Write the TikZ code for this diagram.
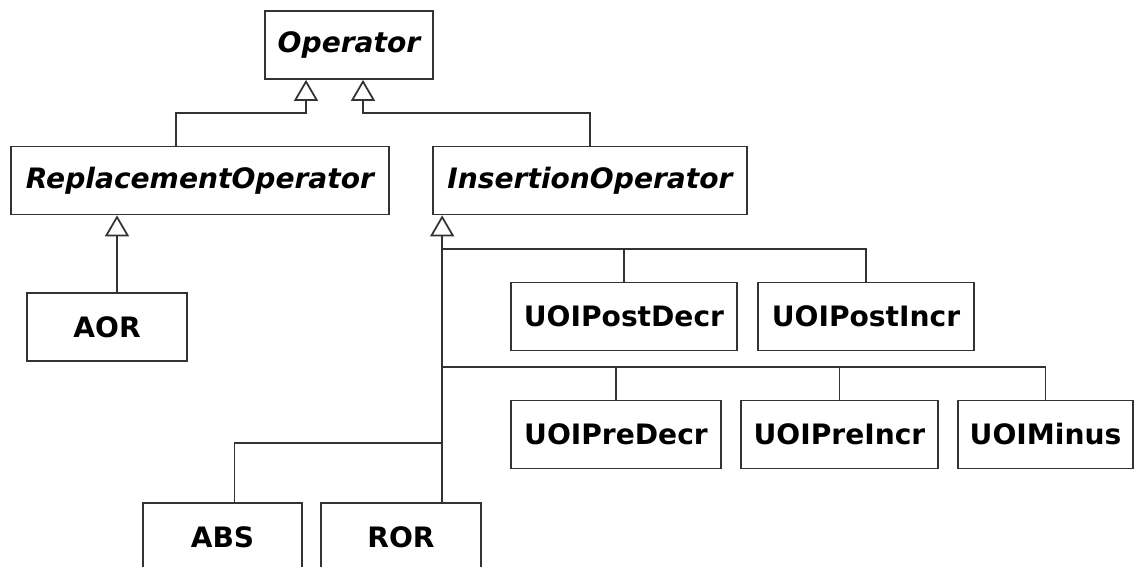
\documentclass[tikz,border=0pt]{standalone}
\usepackage{fontspec}
\setmainfont{DejaVu Sans}
\usetikzlibrary{arrows.meta}

\begin{document}
\begin{tikzpicture}[
    x=0.02cm, y=-0.02cm,
    cls/.style={draw=black!80, line width=1pt, rectangle, minimum height=1.36cm, inner sep=0pt, font=\fontsize{16}{19}\selectfont\bfseries},
    abstractcls/.style={cls, font=\fontsize{16}{19}\selectfont\bfseries\itshape},
    link/.style={draw=black!80, line width=1pt},
    inherit/.style={link, -{Triangle[open, length=0.42cm, width=0.48cm]}},
]

\clip (0,0) rectangle (1136,567);

% Abstract classes
\node[abstractcls, minimum width=3.36cm] (operator) at (349,45) {Operator};
\node[abstractcls, minimum width=7.56cm] (replacement) at (200,180.5) {ReplacementOperator};
\node[abstractcls, minimum width=6.28cm] (insertion) at (590,180.5) {InsertionOperator};

% Concrete operators
\node[cls, minimum width=3.2cm] (aor) at (107,327) {AOR};
\node[cls, minimum width=4.52cm] (postdecr) at (624,316.5) {UOIPostDecr};
\node[cls, minimum width=4.32cm] (postincr) at (866,316.5) {UOIPostIncr};
\node[cls, minimum width=4.2cm] (predecr) at (616,434.5) {UOIPreDecr};
\node[cls, minimum width=3.94cm] (preincr) at (839.5,434.5) {UOIPreIncr};
\node[cls, minimum width=3.5cm] (minus) at (1045.5,434.5) {UOIMinus};
\node[cls, minimum width=3.18cm] (abs) at (222.5,537) {ABS};
\node[cls, minimum width=3.2cm] (ror) at (401,537) {ROR};

% Generalisations to Operator
\draw[inherit] ([xshift=-0.48cm]replacement.north) -- ++(0,-33) -| ([xshift=-0.86cm]operator.south);
\draw[inherit] (insertion.north) -- ++(0,-33) -| ([xshift=0.28cm]operator.south);

% Generalisation to ReplacementOperator
\draw[inherit] ([xshift=0.2cm]aor.north) -- ([xshift=0.2cm]aor.north |- replacement.south);

% Generalisation to InsertionOperator
\coordinate (tip) at ([xshift=0.2cm]insertion.south west);
\coordinate (bus1) at (tip |- 0,249);
\coordinate (bus2) at (tip |- 0,367);
\coordinate (bus3) at (tip |- 0,443);
\draw[inherit] (ror.north -| tip) -- (tip);
\draw[link] (postdecr.north) |- (bus1);
\draw[link] (postincr.north) |- (bus1);
\draw[link] (predecr.north) |- (bus2);
\draw[link] (preincr.north) |- (bus2);
\draw[link] (minus.north) |- (bus2);
\draw[link] ([xshift=0.24cm]abs.north) |- (bus3);

\end{tikzpicture}
\end{document}
